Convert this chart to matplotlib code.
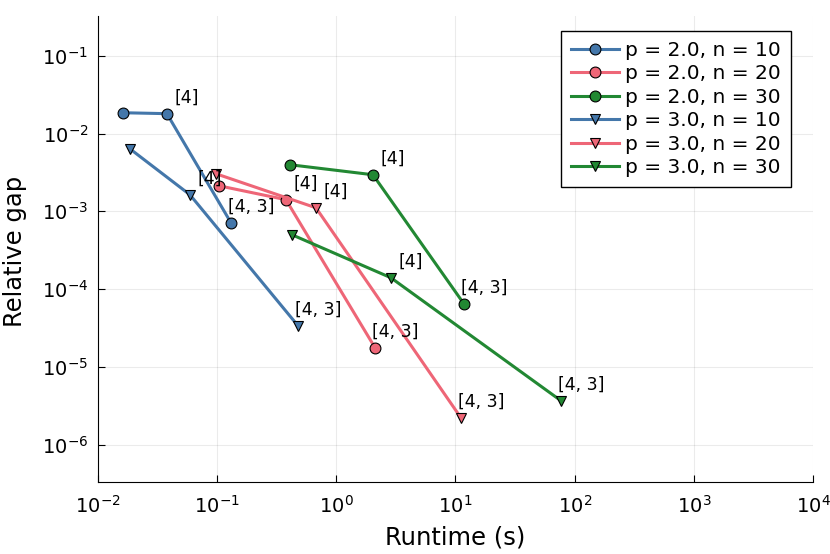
import numpy as np
import matplotlib.pyplot as plt

# runtime (s) and relative gap for each run
labels = ['p = 2.0, n = 10', 'p = 2.0, n = 20', 'p = 2.0, n = 30',
          'p = 3.0, n = 10', 'p = 3.0, n = 20', 'p = 3.0, n = 30']
runtimes = [
    [0.0162, 0.0379, 0.1306],
    [0.1035, 0.378, 2.11],
    [0.408, 2.03, 11.75],
    [0.0185, 0.0592, 0.476],
    [0.0977, 0.675, 11.1],
    [0.424, 2.87, 76.6],
]
gaps = [
    [1.85e-2, 1.80e-2, 7.13e-4],
    [2.13e-3, 1.41e-3, 1.77e-5],
    [3.97e-3, 2.95e-3, 6.49e-5],
    [6.38e-3, 1.63e-3, 3.39e-5],
    [3.04e-3, 1.11e-3, 2.22e-6],
    [5.0e-4, 1.40e-4, 3.68e-6],
]
point_notes = ['', '[4]', '[4, 3]']

colors = ['#4477AA', '#EE6677', '#228833'] * 2
markers = ['o'] * 3 + ['v'] * 3

fig = plt.figure(figsize=(8.3, 5.54), dpi=100)
ax = fig.add_axes([0.118, 0.130, 0.8615, 0.841])

for i in range(len(labels)):
    ax.plot(runtimes[i], gaps[i], color=colors[i], marker=markers[i],
            lw=2.2, ms=7.8, mec='black', mew=0.8, label=labels[i])
    # little notes next to the 2nd and 3rd points
    for x, y, note in zip(runtimes[i], gaps[i], point_notes):
        if note:
            ax.annotate(note, (x, y), xytext=(14.5, 11.5), textcoords='offset points',
                        ha='center', va='center', fontsize=12.5)

ax.set_xscale('log')
ax.set_yscale('log')
ax.set_xlim(1e-2, 1e4)
ax.set_ylim(10 ** -6.48, 10 ** -0.49)
ax.set_xticks([10.0 ** k for k in range(-2, 5)])
ax.set_yticks([10.0 ** k for k in range(-6, 0)])
ax.minorticks_off()

ax.grid(True, color='black', alpha=0.08, lw=0.8)
ax.spines['top'].set_visible(False)
ax.spines['right'].set_visible(False)
ax.tick_params(direction='in', length=5, labelsize=14)
ax.tick_params(axis='x', pad=9)
ax.tick_params(axis='y', pad=7)

ax.set_xlabel('Runtime (s)', fontsize=17.5, va='center')
ax.set_ylabel('Relative gap', fontsize=17.5, va='center')
ax.xaxis.set_label_coords(0.5, -0.12)
ax.yaxis.set_label_coords(-0.116, 0.496)

leg = ax.legend(loc='upper right', bbox_to_anchor=(0.969, 0.968), fontsize=14.5,
                fancybox=False, framealpha=1, edgecolor='black',
                handlelength=2.4, labelspacing=0.22, borderpad=0.5,
                handletextpad=0.3, borderaxespad=0)
leg.get_frame().set_linewidth(1.0)

fig.savefig('out.png', dpi=100)
